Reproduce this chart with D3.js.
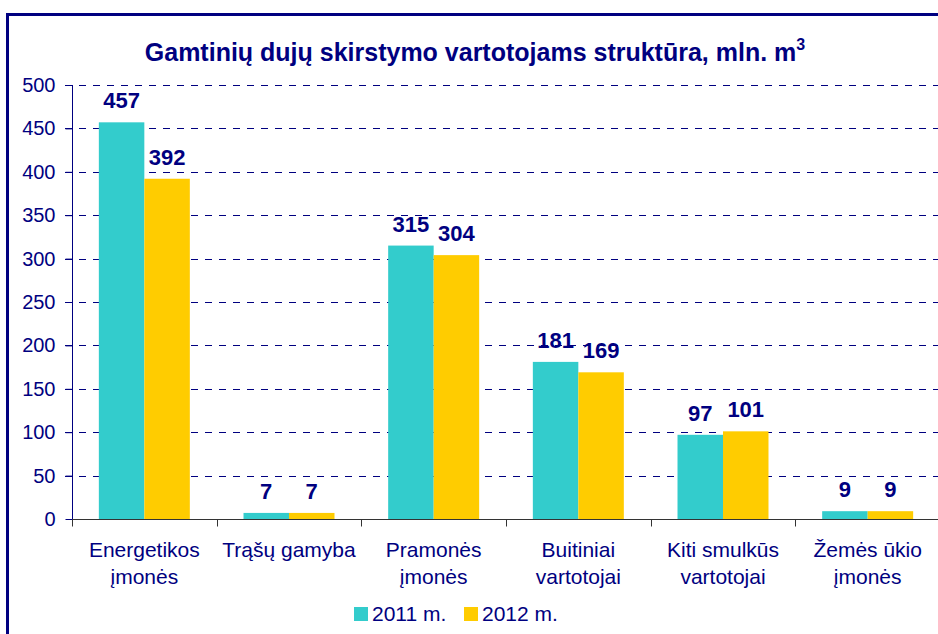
<!DOCTYPE html>
<html>
<head>
<meta charset="utf-8">
<script src="https://cdn.jsdelivr.net/npm/d3@7"></script>
<style>
  body { margin: 0; background: #fff; }
  text { font-family: "Liberation Sans", Arial, sans-serif; fill: #000080; }
</style>
</head>
<body>
<div id="chart"></div>
<script>
var categories = [
  ["Energetikos", "įmonės"],
  ["Trąšų gamyba"],
  ["Pramonės", "įmonės"],
  ["Buitiniai", "vartotojai"],
  ["Kiti smulkūs", "vartotojai"],
  ["Žemės ūkio", "įmonės"]
];
var seriesNames = ["2011 m.", "2012 m."];
var values2011 = [457, 7, 315, 181, 97, 9];
var values2012 = [392, 7, 304, 169, 101, 9];
var yTicks = [0, 50, 100, 150, 200, 250, 300, 350, 400, 450, 500];
var colors = ["#33CCCC", "#FFCC00"];

var W = 938, H = 634;
var m = { left: 72, right: -2, top: 85, bottom: 115 };

var svg = d3.select("#chart").append("svg")
    .attr("width", W)
    .attr("height", H);

// outer frame
svg.append("rect")
    .attr("x", 7.5).attr("y", 14.5)
    .attr("width", W + 20).attr("height", H + 20)
    .attr("fill", "none")
    .attr("stroke", "#000080")
    .attr("stroke-width", 3);

var title = svg.append("text")
    .attr("x", 475).attr("y", 61)
    .attr("text-anchor", "middle")
    .style("font-size", "25px")
    .style("font-weight", "bold");
title.append("tspan").text("Gamtinių dujų skirstymo vartotojams struktūra, mln. m");
title.append("tspan").attr("dy", -11).style("font-size", "16px").text("3");

var x = d3.scaleBand()
    .domain(d3.range(categories.length))
    .range([m.left, W - m.right]);

var x1 = d3.scaleBand()
    .domain([0, 1])
    .range([0, x.bandwidth()])
    .paddingOuter(0.59)
    .paddingInner(0);

var y = d3.scaleLinear()
    .domain([0, 500])
    .range([H - m.bottom, m.top]);

// gridlines
svg.append("g").selectAll("line")
  .data(yTicks.filter(function(d){ return d > 0; }))
  .enter().append("line")
    .attr("x1", 65).attr("x2", W)
    .attr("y1", function(d){ return Math.round(y(d)) + 0.5; })
    .attr("y2", function(d){ return Math.round(y(d)) + 0.5; })
    .attr("stroke", "#000080")
    .attr("stroke-dasharray", "7,7");

// bars
var data = categories.map(function(c, i){ return [values2011[i], values2012[i]]; });

var groups = svg.append("g").selectAll("g")
  .data(data)
  .enter().append("g")
    .attr("transform", function(d, i){ return "translate(" + x(i) + ",0)"; });

groups.selectAll("rect")
  .data(function(d){ return d; })
  .enter().append("rect")
    .attr("x", function(d, j){ return x1(j); })
    .attr("y", function(d){ return y(d); })
    .attr("width", x1.bandwidth())
    .attr("height", function(d){ return y(0) - y(d); })
    .attr("fill", function(d, j){ return colors[j]; });

groups.selectAll("text")
  .data(function(d){ return d; })
  .enter().append("text")
    .attr("x", function(d, j){ return x1(j) + x1.bandwidth() / 2; })
    .attr("y", function(d){ return y(d) - 14; })
    .attr("text-anchor", "middle")
    .style("font-size", "22px")
    .style("font-weight", "bold")
    .text(function(d){ return d; });

// y axis
var yAxis = svg.append("g")
    .attr("transform", "translate(" + (m.left + 0.5) + ",0)")
    .call(d3.axisLeft(y).tickValues(yTicks).tickSize(7).tickPadding(10));
yAxis.select(".domain").attr("stroke", "#000080").attr("d", "M0," + y(500) + "V" + y(0));
yAxis.selectAll(".tick line").attr("stroke", "#000080");
yAxis.selectAll("text")
    .style("font-size", "20px")
    .style("font-family", "'Liberation Sans', Arial, sans-serif")
    .attr("fill", "#000080");

// x axis
var xAxis = svg.append("g")
    .attr("transform", "translate(0," + (Math.round(y(0)) + 0.5) + ")");
xAxis.append("line")
    .attr("x1", m.left).attr("x2", W)
    .attr("stroke", "#333333");
xAxis.selectAll(".xt")
  .data(d3.range(categories.length))
  .enter().append("line")
    .attr("class", "xt")
    .attr("x1", function(i){ return Math.round(x(i)) + 0.5; })
    .attr("x2", function(i){ return Math.round(x(i)) + 0.5; })
    .attr("y1", 0).attr("y2", 7)
    .attr("stroke", "#333333");

var xl = svg.append("g").selectAll("text")
  .data(categories)
  .enter().append("text")
    .attr("x", function(d, i){ return x(i) + x.bandwidth() / 2; })
    .attr("y", 557)
    .attr("text-anchor", "middle")
    .style("font-size", "21px");
xl.selectAll("tspan")
  .data(function(d){ return d; })
  .enter().append("tspan")
    .attr("x", function(){ return this.parentNode.getAttribute("x"); })
    .attr("dy", function(d, k){ return k === 0 ? 0 : 26.5; })
    .text(function(d){ return d; });

// legend
var legend = svg.append("g").selectAll("g")
  .data(seriesNames)
  .enter().append("g")
    .attr("transform", function(d, i){ return "translate(" + (354 + i * 110) + ",607)"; });
legend.append("rect")
    .attr("width", 14).attr("height", 14)
    .attr("fill", function(d, i){ return colors[i]; });
legend.append("text")
    .attr("x", 18).attr("y", 14)
    .style("font-size", "21px")
    .text(function(d){ return d; });
</script>
</body>
</html>
